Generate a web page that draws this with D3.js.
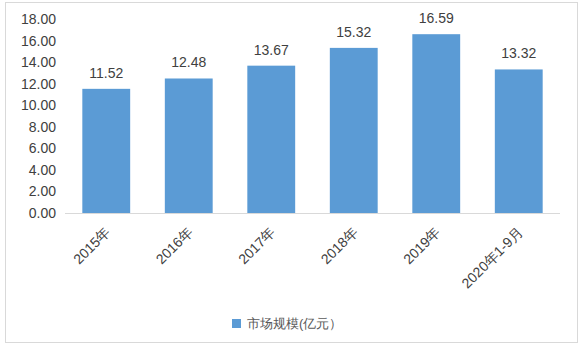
<!DOCTYPE html>
<html>
<head>
<meta charset="utf-8">
<script src="https://cdn.jsdelivr.net/npm/d3@7"></script>
<style>
  body { margin: 0; background: #fff; }
  svg text { font-family: "Liberation Sans", Arial, sans-serif; }
</style>
</head>
<body>
<div id="chart"></div>
<script>
var categories = ["2015年", "2016年", "2017年", "2018年", "2019年", "2020年1-9月"];
var values = [11.52, 12.48, 13.67, 15.32, 16.59, 13.32];
var yTicks = [0, 2, 4, 6, 8, 10, 12, 14, 16, 18];
var seriesName = "市场规模(亿元）";

var W = 586, H = 353;

var svg = d3.select("#chart").append("svg")
    .attr("width", W)
    .attr("height", H);

// outer border
svg.append("rect")
    .attr("x", 5.5).attr("y", 2.5)
    .attr("width", 572).attr("height", 340)
    .attr("fill", "none")
    .attr("stroke", "#d9d9d9");

var x = d3.scaleBand()
    .domain(categories)
    .range([65, 560])
    .paddingInner(0.42)
    .paddingOuter(0.21);

var y = d3.scaleLinear()
    .domain([0, 18])
    .range([213, 19]);

// y axis labels
var yAxis = svg.append("g")
    .attr("transform", "translate(56,0)")
    .call(d3.axisLeft(y).tickValues(yTicks).tickSize(0).tickPadding(0)
        .tickFormat(function(d) { return d3.format(".2f")(d); }));
yAxis.select(".domain").remove();
yAxis.selectAll("text")
    .attr("font-size", 14)
    .attr("fill", "#404040")
    .attr("font-family", "'Liberation Sans', Arial, sans-serif");

// bars
svg.selectAll(".bar")
    .data(values)
    .enter().append("rect")
    .attr("class", "bar")
    .attr("x", function(d, i) { return x(categories[i]); })
    .attr("y", function(d) { return y(d); })
    .attr("width", x.bandwidth())
    .attr("height", function(d) { return y(0) - y(d); })
    .attr("fill", "#5b9bd5");

// baseline + category labels
var xAxis = svg.append("g")
    .attr("transform", "translate(0," + y(0) + ")")
    .call(d3.axisBottom(x).tickSize(0).tickPadding(0));
xAxis.select(".domain").attr("stroke", "#d9d9d9").attr("d", "M65,0.5H560");
xAxis.selectAll("text")
    .attr("font-size", 14)
    .attr("fill", "#404040")
    .attr("font-family", "'Liberation Sans', Arial, sans-serif")
    .attr("text-anchor", "end")
    .attr("dy", 0)
    .attr("transform", "translate(5,20) rotate(-45)");

// value labels
svg.selectAll(".val")
    .data(values)
    .enter().append("text")
    .attr("class", "val")
    .attr("x", function(d, i) { return x(categories[i]) + x.bandwidth() / 2; })
    .attr("y", function(d) { return y(d) - 11; })
    .attr("text-anchor", "middle")
    .attr("font-size", 14)
    .attr("fill", "#404040")
    .text(function(d) { return d3.format(".2f")(d); });

// legend
var legend = svg.append("g").attr("transform", "translate(232,319)");
legend.append("rect")
    .attr("width", 9).attr("height", 9)
    .attr("fill", "#5b9bd5");
legend.append("text")
    .attr("x", 15).attr("y", 9)
    .attr("font-size", 13)
    .attr("fill", "#595959")
    .text(seriesName);
</script>
</body>
</html>
